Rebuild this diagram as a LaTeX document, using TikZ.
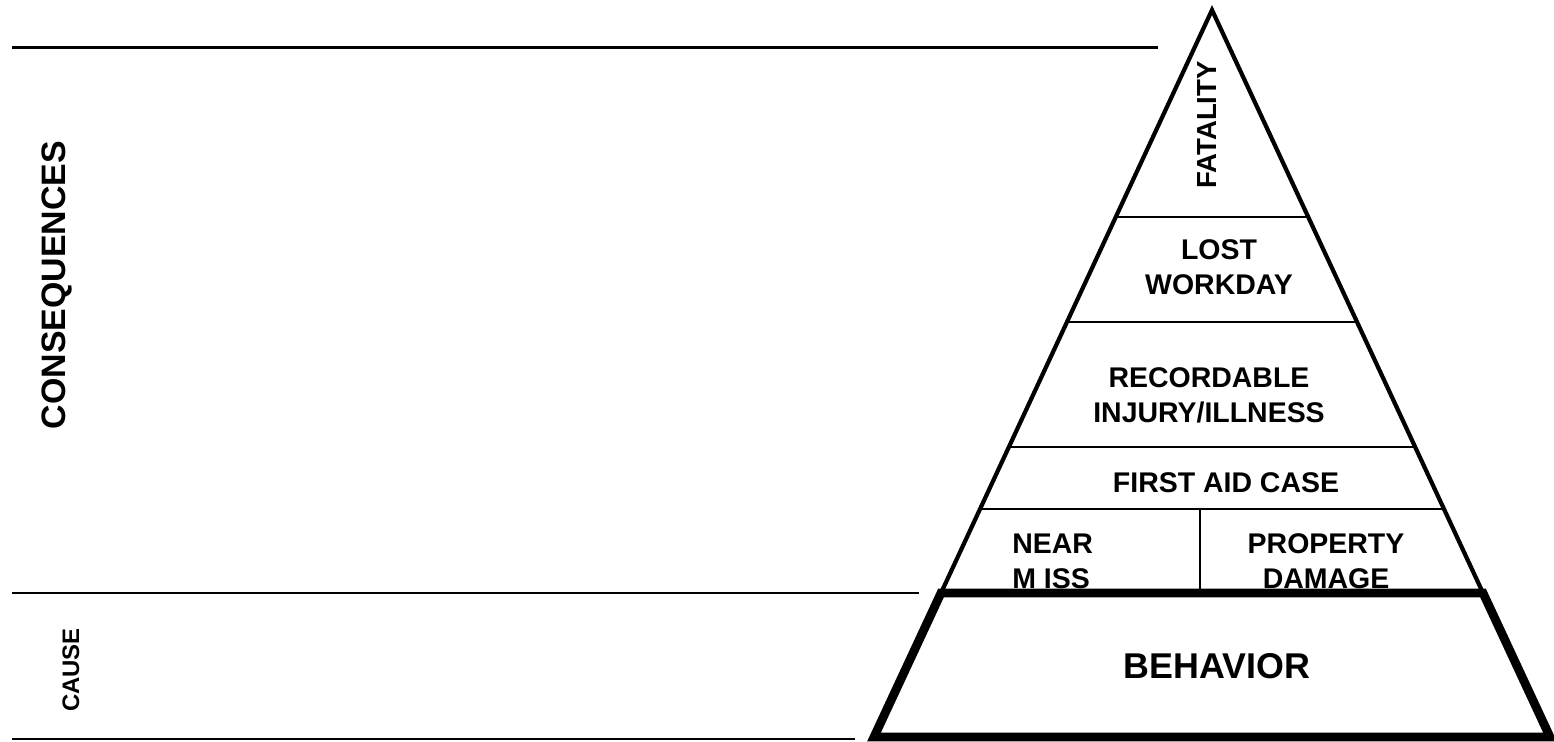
\documentclass[tikz,border=0pt]{standalone}
\usepackage{fontspec}
\setmainfont{Liberation Sans}
\usetikzlibrary{positioning}

\tikzset{
  lbl/.style={font=\bfseries\fontsize{16.2}{19.8}\selectfont, align=center, inner sep=0pt},
  side/.style={font=\bfseries\fontsize{19.3}{23}\selectfont, inner sep=0pt, rotate=90},
  rule/.style={draw=black, line width=1.7pt},
  slice/.style={draw=black, line width=1.4pt},
  edge/.style={draw=black, line width=2.4pt, line join=miter},
  heavy/.style={draw=black, line width=5pt, line join=miter}
}

\begin{document}
\begin{tikzpicture}[x=0.02cm,y=-0.02cm]
\useasboundingbox (0,0) rectangle (1554,742);

\coordinate (apex) at (1212,10);
\coordinate (bl) at (941,593);
\coordinate (br) at (1483,593);
\coordinate (fl) at (874,737);
\coordinate (fr) at (1550,737);

\node[side] (conseq) at (57,285) {CONSEQUENCES};
\node[side, font=\bfseries\fontsize{13.6}{16}\selectfont] (cause) at (71,670) {CAUSE};

\node[lbl, rotate=90, font=\bfseries\fontsize{15.7}{19}\selectfont] (fatality) at (1207,125) {FATALITY};
\node[lbl] (lostday) at (1219,267) {LOST\\WORKDAY};
\node[lbl] (record) at (1209,395) {RECORDABLE\\INJURY/ILLNESS};
\node[lbl] (firstaid) at (1226,483) {FIRST AID CASE};
\node[lbl, align=left, anchor=west] (nearmiss) at (1012,561) {NEAR\\M ISS};
\node[lbl] (property) at (1326,561) {PROPERTY\\DAMAGE};
\node[lbl, font=\bfseries\fontsize{20.4}{24}\selectfont] (behavior) at (1217,666) {BEHAVIOR};

% left rules
\draw[rule] (12,48) -- (1158,48);
\draw[rule] (12,593) -- (919,593);
\draw[rule] (12,739) -- (855,739);

% pyramid
\draw[edge] (bl) -- (apex) -- (br);
\draw[slice] (1116,217) -- (1308,217);
\draw[slice] (1067,322) -- (1357,322);
\draw[slice] (1009,447) -- (1415,447);
\draw[slice] (980,509) -- (1444,509);
\draw[slice] (1200,509) -- (1200,593);
\draw[heavy] (bl) -- (fl) -- (fr) -- (br) -- cycle;
\end{tikzpicture}
\end{document}
